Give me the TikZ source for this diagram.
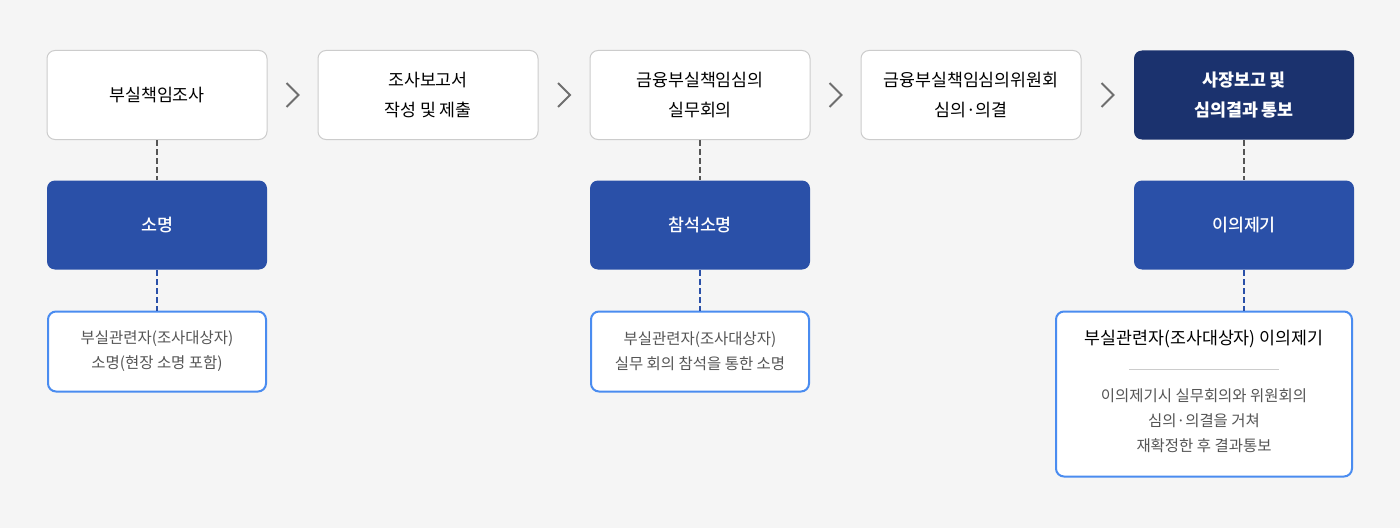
\documentclass[tikz,border=0pt]{standalone}
\usepackage{fontspec}
\setmainfont{Noto Sans CJK KR}
\newfontfamily\krmed{Noto Sans CJK KR Medium}
\usepackage{xcolor}
\usetikzlibrary{calc}

\definecolor{bgGray}{RGB}{245,245,245}
\definecolor{boxLine}{RGB}{204,204,204}
\definecolor{navyBox}{RGB}{27,50,110}
\definecolor{blueBox}{RGB}{42,80,168}
\definecolor{skyLine}{RGB}{74,140,240}
\definecolor{chevGray}{RGB}{110,110,110}
\definecolor{textGray}{RGB}{85,85,85}

\tikzset{
  stepbox/.style={draw=boxLine, fill=white, rounded corners=6pt, line width=0.75pt,
    minimum width=165pt, minimum height=66.75pt, align=center, inner sep=0pt,
    font=\fontsize{13}{22.5}\selectfont},
  lastbox/.style={stepbox, draw=none, fill=navyBox, text=white,
    font=\fontsize{13}{22.5}\selectfont\bfseries},
  midbox/.style={stepbox, draw=none, fill=blueBox, text=white,
    font=\fontsize{13}{22.5}\selectfont\krmed},
  notebox/.style={draw=skyLine, fill=white, rounded corners=6pt, line width=1.5pt,
    minimum width=163.5pt, minimum height=60pt, align=center, inner sep=0pt,
    text=textGray, font=\fontsize{11.6}{18.75}\selectfont},
  graydash/.style={draw=textGray, line width=1.5pt, dash pattern=on 4.5pt off 2.25pt},
  bluedash/.style={draw=blueBox, line width=1.5pt, dash pattern=on 4.5pt off 2.25pt},
  chev/.style={draw=chevGray, line width=1.5pt}
}

\begin{document}
\begin{tikzpicture}[x=0.75pt,y=0.75pt,yscale=-1,xscale=1]

\fill[bgGray] (0,0) rectangle (1400,528);
\useasboundingbox (0,0) rectangle (1400,528);

% top row
\node[stepbox] (s1) at (157,95) {부실책임조사};
\node[stepbox] (s2) at (428,95) {조사보고서\\작성 및 제출};
\node[stepbox] (s3) at (700,95) {금융부실책임심의\\실무회의};
\node[stepbox] (s4) at (971,95) {금융부실책임심의위원회\\심의·의결};
\node[lastbox] (s5) at (1244,95) {사장보고 및\\심의결과 통보};

% chevrons
\foreach \a/\b in {s1/s2,s2/s3,s3/s4,s4/s5}{
  \coordinate (m) at ($(\a.east)!0.5!(\b.west)$);
  \draw[chev] ($(m)+(-6,-12)$) -- ($(m)+(6,0)$) -- ($(m)+(-6,12)$);
}

% middle row
\node[midbox] (c1) at (157,225) {소명};
\node[midbox] (c3) at (700,225) {참석소명};
\node[midbox] (c5) at (1244,225) {이의제기};

% notes
\node[notebox] (n1) at (157,351.5) {부실관련자(조사대상자)\\소명(현장 소명 포함)};
\node[notebox] (n3) at (700,351.5) {부실관련자(조사대상자)\\실무 회의 참석을 통한 소명};
\node[notebox, minimum width=222pt, minimum height=123.75pt] (n5) at (1204,394) {};
\node[font=\fontsize{13}{18}\selectfont, text=black] (n5t) at (1204,339) {부실관련자(조사대상자) 이의제기};
\coordinate (r1) at (1129,369);
\coordinate (r2) at (1279,369);
\draw[boxLine, line width=0.75pt] (r1) -- (r2);
\node[align=center, text=textGray, font=\fontsize{11.6}{18.75}\selectfont] (n5b) at (1204,421)
  {이의제기시 실무회의와 위원회의\\심의·의결을 거쳐\\재확정한 후 결과통보};

% dashed links
\draw[graydash] (s1.south) -- (c1.north);
\draw[graydash] (s3.south) -- (c3.north);
\draw[graydash] (s5.south) -- (c5.north);
\draw[bluedash] (c1.south) -- (n1.north);
\draw[bluedash] (c3.south) -- (n3.north);
\draw[bluedash] (c5.south) -- (c5.south |- n5.north);

\end{tikzpicture}
\end{document}
